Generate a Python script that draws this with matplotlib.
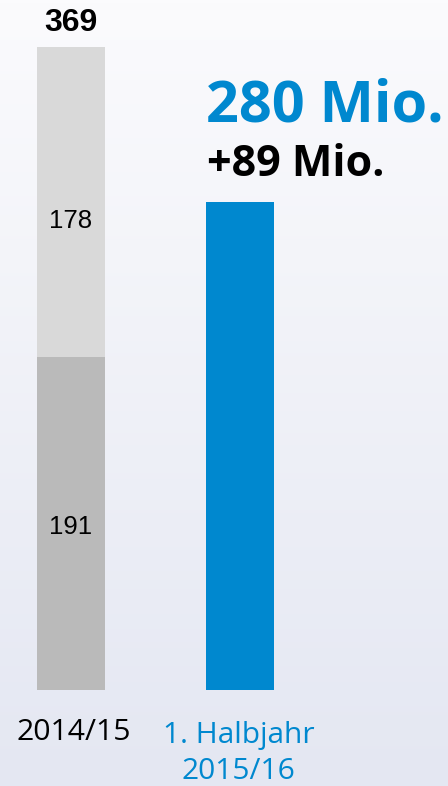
import numpy as np
import matplotlib
matplotlib.use("Agg")
import matplotlib.pyplot as plt
from matplotlib.colors import LinearSegmentedColormap

# Data
categories = ["2014/15", "1. Halbjahr\n2015/16"]
bottom_values = [191, 280]
top_values = [178, 0]
total_prev = 369
headline = "280 Mio."
delta_text = "+89 Mio."

W, H = 448, 786
fig = plt.figure(figsize=(W / 100, H / 100), dpi=100)

# background gradient
bg = fig.add_axes([0, 0, 1, 1], zorder=0)
grad = np.linspace(0, 1, 256).reshape(-1, 1)
cmap = LinearSegmentedColormap.from_list("bg", ["#fbfbfd", "#e4e7f2"])
bg.imshow(grad, aspect="auto", cmap=cmap, extent=[0, 1, 0, 1], origin="upper")
bg.axis("off")

ax = fig.add_axes([0, 0, 1, 1], zorder=1)
ax.patch.set_alpha(0)
ppu = 643 / 369.0
ax.set_ylim(-96 / ppu, 369 + 47 / ppu)
step = 169.0
ax.set_xlim(-71 / step, (W - 71) / step)
ax.axis("off")

def ypix(p):
    return (690 - p) / ppu

x = np.arange(len(categories))
bw = 68 / step
ax.bar(x[0], bottom_values[0], width=bw, color="#bababa", linewidth=0)
ax.bar(x[0], top_values[0], bottom=bottom_values[0], width=bw, color="#d9d9d9", linewidth=0)
ax.bar(x[1], bottom_values[1], width=bw, color="#0088cf", linewidth=0)

num_font = "Liberation Sans"
lab_font = "Open Sans"

ax.text(x[0], ypix(23), str(total_prev), ha="center", va="center",
        fontsize=23, fontweight="bold", family=num_font, color="black")
ax.text(x[0], ypix(221), str(top_values[0]), ha="center", va="center",
        fontsize=18.5, family=num_font, color="black")
ax.text(x[0], ypix(527.5), str(bottom_values[0]), ha="center", va="center",
        fontsize=18.5, family=num_font, color="black")

x0 = -71 / step
ax.text(x0 + 206 / step, ypix(106), headline, ha="left", va="center",
        fontsize=41.5, fontweight="bold", family=lab_font, color="#0088cf")
ax.text(x0 + 207 / step, ypix(165), delta_text, ha="left", va="center",
        fontsize=31, fontweight="bold", family=lab_font, color="black")

ax.text(x0 + 73.5 / step, ypix(733), categories[0], ha="center", va="center",
        fontsize=21.7, family=lab_font, color="black")
ax.text(x0 + 238.5 / step, ypix(753.5), categories[1], ha="center", va="center",
        fontsize=21.5, family=lab_font, color="#0088cf", linespacing=1.3)

fig.savefig("out.png", dpi=100)
